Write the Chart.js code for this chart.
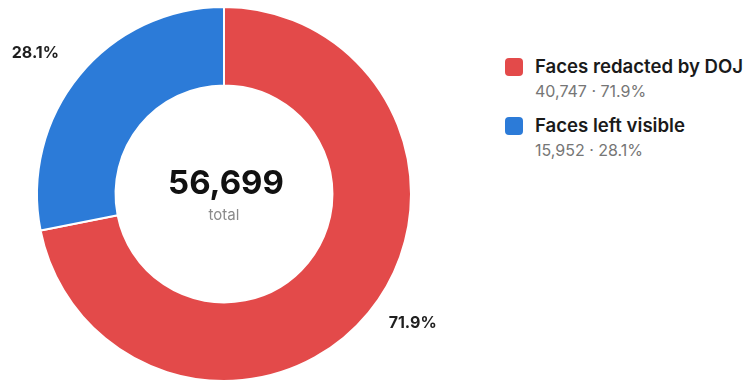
<!DOCTYPE html>
<html>
<head>
<meta charset="utf-8">
<script src="https://cdn.jsdelivr.net/npm/chart.js@4.4.1/dist/chart.umd.min.js"></script>
<style>
  html, body { margin: 0; padding: 0; background: #fff; overflow: hidden; }
  body { width: 745px; height: 382px; position: relative; font-family: Inter, "Noto Sans", sans-serif; }
  .chart-box { position: absolute; left: 0; top: 0; width: 448px; height: 388px; }
  .legend { position: absolute; left: 505px; top: 55px; }
  .legend .row { display: flex; align-items: flex-start; margin-bottom: 13px; }
  .legend .swatch { width: 18px; height: 18px; border-radius: 4px; margin-top: 3px; margin-right: 12px; }
  .legend .title { font-size: 18.6px; line-height: 22px; font-weight: 600; color: #1a1a1a; white-space: nowrap; }
  .legend .sub { font-size: 16px; line-height: 20px; margin-top: 4px; color: #767676; white-space: nowrap; }
</style>
</head>
<body>
<div class="chart-box"><canvas id="chart"></canvas></div>
<div class="legend" id="legend"></div>
<script>
var categories = ['Faces redacted by DOJ', 'Faces left visible'];
var values = [40747, 15952];
var colors = ['#e34a4a', '#2c7bd8'];

var total = values.reduce(function(a, b){ return a + b; }, 0);
function pct(v){ return (v / total * 100).toFixed(1) + '%'; }
function fmt(v){ return v.toLocaleString('en-US'); }

// legend on the right
var legendEl = document.getElementById('legend');
categories.forEach(function(name, i){
  var row = document.createElement('div');
  row.className = 'row';
  row.innerHTML = "<div class='swatch' style='background:" + colors[i] + "'></div>" +
    "<div><div class='title'>" + name + "</div><div class='sub'>" +
    fmt(values[i]) + " \u00b7 " + pct(values[i]) + "</div></div>";
  legendEl.appendChild(row);
});

var centerText = {
  id: 'centerText',
  afterDraw: function(chart){
    var arc = chart.getDatasetMeta(0).data[0];
    var ctx = chart.ctx;
    ctx.save();
    ctx.textAlign = 'center';
    ctx.textBaseline = 'alphabetic';
    ctx.fillStyle = '#111111';
    ctx.font = '700 33px Inter, sans-serif';
    ctx.fillText(fmt(total), arc.x + 2, 194);
    ctx.fillStyle = '#8a8a8a';
    ctx.font = '400 15px Inter, sans-serif';
    ctx.fillText('total', arc.x, 220);
    ctx.restore();
  }
};

var outerLabels = {
  id: 'outerLabels',
  afterDraw: function(chart){
    var ctx = chart.ctx;
    ctx.save();
    ctx.textAlign = 'center';
    ctx.textBaseline = 'middle';
    ctx.fillStyle = '#1f1f1f';
    ctx.font = '700 16px Inter, sans-serif';
    chart.getDatasetMeta(0).data.forEach(function(arc, i){
      var mid = (arc.startAngle + arc.endAngle) / 2;
      var x = arc.x + Math.cos(mid) * (arc.outerRadius + 57);
      var y = arc.y + Math.sin(mid) * (arc.outerRadius + 26) - 6;
      ctx.fillText(pct(values[i]), x, y);
    });
    ctx.restore();
  }
};

new Chart(document.getElementById('chart'), {
  type: 'doughnut',
  data: {
    labels: categories,
    datasets: [{
      data: values,
      backgroundColor: colors,
      borderColor: '#ffffff',
      borderWidth: 2,
      hoverOffset: 0
    }]
  },
  options: {
    responsive: true,
    maintainAspectRatio: false,
    animation: false,
    cutout: '58%',
    layout: { padding: { top: 6, bottom: 6, left: 0, right: 0 } },
    plugins: {
      legend: { display: false },
      tooltip: { enabled: false }
    }
  },
  plugins: [centerText, outerLabels]
});
</script>
</body>
</html>
